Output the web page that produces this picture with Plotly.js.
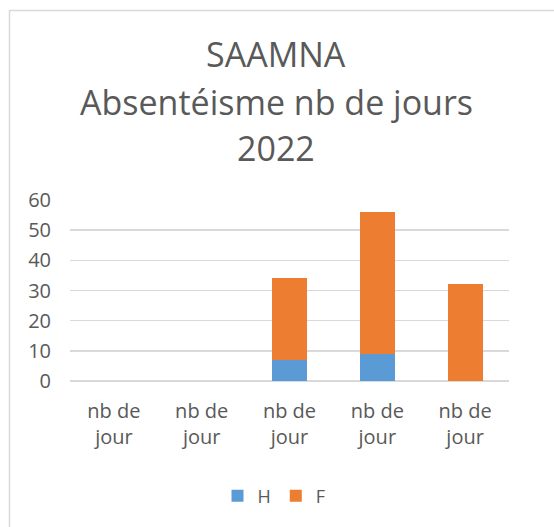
<!DOCTYPE html>
<html>
<head>
<meta charset="utf-8">
<script src="https://cdn.plot.ly/plotly-3.0.1.min.js"></script>
<style>html,body{margin:0;padding:0;background:#fff}#chart{width:554px;height:527px}</style>
</head>
<body>
<div id="chart"></div>
<script>
const categories = ["nb de<br>jour", "nb de<br>jour", "nb de<br>jour", "nb de<br>jour", "nb de<br>jour"];
const positions = [0, 1, 2, 3, 4];
const valuesH = [0, 0, 7, 9, 0];
const valuesF = [0, 0, 27, 47, 32];
const titleLines = ["SAAMNA", "Absentéisme nb de jours", "2022"];
const seriesNames = ["H", "F"];

const FONT = "Open Sans, sans-serif";
const GREY = "#595959";

const traces = [
  {type: "bar", name: seriesNames[0], x: positions, y: valuesH, marker: {color: "#5B9BD5"}, width: 0.4},
  {type: "bar", name: seriesNames[1], x: positions, y: valuesF, marker: {color: "#ED7D31"}, width: 0.4}
];

const W = 554, H = 527, L = 70, R = 45, T = 200, B = 146;
const pw = W - L - R, ph = H - T - B;
const px = v => (v - L) / pw;
const py = v => (H - B - v) / ph;

const titleY = [54, 102, 148];
const annotations = titleLines.map((t, i) => ({
  text: t, xref: "paper", yref: "paper", x: px(276), y: py(titleY[i]),
  xanchor: "center", yanchor: "middle", showarrow: false,
  font: {family: FONT, size: 34, color: GREY}
}));

const layout = {
  width: W, height: H,
  margin: {l: L, r: R, t: T, b: B, pad: 0},
  paper_bgcolor: "#fff", plot_bgcolor: "#fff",
  barmode: "stack",
  font: {family: FONT, color: GREY},
  xaxis: {
    range: [-0.5, 4.5], tickvals: positions, ticktext: categories,
    showgrid: false, zeroline: false, showline: false, ticks: "",
    tickfont: {family: FONT, size: 20, color: GREY}, ticklabelstandoff: 16
  },
  yaxis: {
    range: [0, 60], dtick: 10, tick0: 0,
    showgrid: true, gridcolor: "#D9D9D9", gridwidth: 1.5,
    zeroline: true, zerolinecolor: "#D9D9D9", zerolinewidth: 1.5,
    showline: false, ticks: "",
    tickfont: {family: FONT, size: 20, color: GREY}, ticklabelstandoff: 18
  },
  showlegend: true,
  legend: {orientation: "h", x: px(274), xanchor: "center", y: py(496), yanchor: "middle",
    font: {family: FONT, size: 18, color: GREY}, traceorder: "normal", itemwidth: 30},
  annotations: annotations,
  shapes: [{type: "rect", xref: "paper", yref: "paper",
    x0: px(9.5), x1: px(600), y0: py(600), y1: py(10.5),
    line: {color: "#D9D9D9", width: 1.5}, fillcolor: "rgba(0,0,0,0)", layer: "below"}]
};

Plotly.newPlot("chart", traces, layout, {displayModeBar: false, staticPlot: true});
</script>
</body>
</html>
